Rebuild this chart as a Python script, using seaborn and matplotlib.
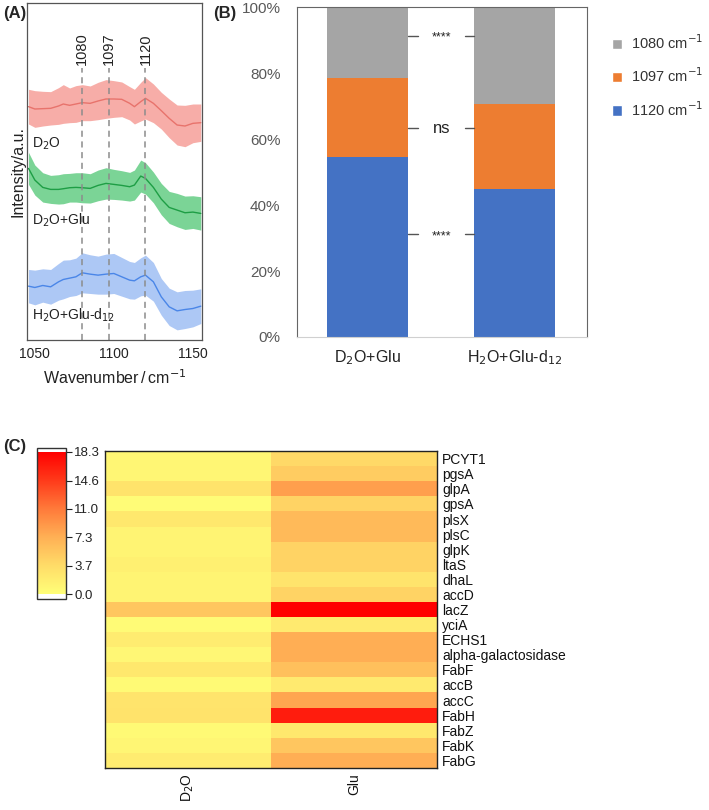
import numpy as np
import pandas as pd
import matplotlib
matplotlib.use("Agg")
import matplotlib.pyplot as plt
from matplotlib.colors import LinearSegmentedColormap
from matplotlib.patches import Patch
import seaborn as sns

sns.set_style("white")
plt.rcParams['font.family'] = ['Liberation Sans', 'DejaVu Sans']

# ---------------- Panel A data ----------------
wavenumber = [1046, 1050, 1055, 1060, 1065, 1068, 1072, 1076, 1080, 1085, 1090, 1095, 1100,
              1105, 1110, 1113, 1117, 1120, 1125, 1130, 1135, 1140, 1145, 1150, 1155]
d2o_mean = [7.00, 6.93, 6.94, 6.95, 7.02, 7.08, 7.04, 7.08, 7.12, 7.10, 7.17, 7.23, 7.23,
            7.22, 7.10, 7.00, 7.15, 7.25, 7.10, 6.88, 6.65, 6.45, 6.42, 6.50, 6.52]
d2o_sd = [0.52, 0.55, 0.52, 0.50, 0.55, 0.58, 0.52, 0.55, 0.54, 0.52, 0.56, 0.58, 0.55,
          0.52, 0.50, 0.52, 0.58, 0.62, 0.58, 0.55, 0.58, 0.60, 0.62, 0.58, 0.56]
glu_mean = [5.15, 4.80, 4.58, 4.52, 4.52, 4.54, 4.57, 4.58, 4.57, 4.55, 4.64, 4.70, 4.67,
            4.64, 4.60, 4.65, 4.92, 4.85, 4.58, 4.23, 3.98, 3.90, 3.82, 3.84, 3.80]
glu_sd = [0.48, 0.45, 0.44, 0.42, 0.44, 0.45, 0.43, 0.44, 0.45, 0.44, 0.46, 0.47, 0.45,
          0.44, 0.43, 0.45, 0.48, 0.47, 0.46, 0.47, 0.48, 0.50, 0.50, 0.49, 0.50]
d12_mean = [1.62, 1.58, 1.64, 1.60, 1.75, 1.82, 1.86, 1.90, 2.02, 1.98, 1.95, 1.98, 2.00,
            1.90, 1.80, 1.78, 1.90, 1.95, 1.75, 1.30, 1.00, 0.88, 0.92, 0.95, 1.02]
d12_sd = [0.50, 0.52, 0.50, 0.52, 0.55, 0.58, 0.55, 0.56, 0.60, 0.58, 0.57, 0.60, 0.60,
          0.58, 0.56, 0.55, 0.57, 0.60, 0.58, 0.55, 0.56, 0.57, 0.57, 0.55, 0.52]
peak_lines = [1080, 1097, 1120]

# ---------------- Panel B data ----------------
groups = ['D$_2$O+Glu', 'H$_2$O+Glu-d$_{12}$']
pct_1120 = [54.5, 45.0]
pct_1097 = [24.1, 25.7]
pct_1080 = [21.4, 29.3]
sig_labels = ['****', 'ns', '****']
sig_levels = [91.4, 63.3, 31.1]

# ---------------- Panel C data ----------------
genes = ['PCYT1', 'pgsA', 'glpA', 'gpsA', 'plsX', 'plsC', 'glpK', 'ltaS', 'dhaL', 'accD',
         'lacZ', 'yciA', 'ECHS1', 'alpha-galactosidase', 'FabF', 'accB', 'accC', 'FabH',
         'FabZ', 'FabK', 'FabG']
expr_d2o = [1.0, 1.0, 3.0, 0.3, 2.5, 1.2, 1.2, 1.6, 1.2, 1.2,
            5.5, 0.5, 2.0, 0.8, 2.5, 0.6, 2.8, 3.0, 0.6, 1.0, 2.0]
expr_glu = [4.0, 5.0, 8.5, 4.5, 6.5, 6.5, 4.5, 4.5, 2.8, 4.5,
            18.3, 2.2, 7.5, 7.5, 6.0, 2.2, 8.0, 16.5, 2.5, 5.5, 7.5]
cbar_ticks = [0.0, 3.7, 7.3, 11.0, 14.6, 18.3]

fig = plt.figure(figsize=(7.09, 8.10), dpi=100)

# ================= Panel A =================
axA = fig.add_axes([0.038, 0.580, 0.247, 0.416])
series = [(d2o_mean, d2o_sd, '#F7A9A3', '#E8736C'),
          (glu_mean, glu_sd, '#74D291', '#1E9E45'),
          (d12_mean, d12_sd, '#A9C5F5', '#4A86E8')]
for mean, sd, fc, lc in series:
    m = np.array(mean); s = np.array(sd)
    axA.fill_between(wavenumber, m - s, m + s, color=fc, lw=0, alpha=0.95)
    sns.lineplot(x=wavenumber, y=mean, ax=axA, color=lc, lw=1.0)
for wl in peak_lines:
    axA.plot([wl, wl], [0, 8.15], ls=(0, (4, 3)), color='#8C8C8C', lw=1.1)
    axA.text(wl, 8.25, str(wl), rotation=90, ha='center', va='bottom', fontsize=10.5, color='#222222')
axA.text(1048, 5.88, 'D$_2$O', fontsize=10, va='center', ha='left', color='#222222')
axA.text(1048, 3.58, 'D$_2$O+Glu', fontsize=10, va='center', ha='left', color='#222222')
axA.text(1048, 0.75, 'H$_2$O+Glu-d$_{12}$', fontsize=10, va='center', ha='left', color='#222222')
axA.set_xlim(1045, 1155.8)
axA.set_ylim(0, 10.1)
axA.set_xticks([1050, 1100, 1150])
axA.set_yticks([])
axA.tick_params(axis='x', labelsize=10, colors='#222222', length=0, pad=5)
axA.set_xlabel('Wavenumber$\\,$/$\\,$cm$^{-1}$', fontsize=11.5, color='#222222', labelpad=5)
axA.set_ylabel('Intensity/a.u.', fontsize=11.5, color='#222222', labelpad=1)
for sp in axA.spines.values():
    sp.set_color('#555555'); sp.set_linewidth(0.9)

# ================= Panel B =================
axB = fig.add_axes([0.419, 0.584, 0.409, 0.407])
cum_blue_orange = [a + b for a, b in zip(pct_1120, pct_1097)]
cum_all = [a + b + c for a, b, c in zip(pct_1120, pct_1097, pct_1080)]
dfB = pd.DataFrame({'group': groups, 'all': cum_all, 'bo': cum_blue_orange, 'b': pct_1120})
for col, colr in [('all', '#A5A5A5'), ('bo', '#ED7D31'), ('b', '#4472C4')]:
    sns.barplot(data=dfB, x='group', y=col, color=colr, width=0.55, ax=axB, saturation=1,
                linewidth=0, edgecolor='none')
for lab, lev in zip(sig_labels, sig_levels):
    axB.plot([0.275, 0.34], [lev, lev], color='#555555', lw=1)
    axB.plot([0.66, 0.725], [lev, lev], color='#555555', lw=1)
    if lab == 'ns':
        axB.text(0.5, lev, lab, ha='center', va='center', fontsize=12, color='#222222')
    else:
        axB.text(0.5, lev - 0.6, lab, ha='center', va='center', fontsize=9, color='#222222')
axB.set_xlim(-0.48, 1.49)
axB.set_ylim(0, 100)
axB.set_yticks([0, 20, 40, 60, 80, 100])
axB.set_yticklabels(['0%', '20%', '40%', '60%', '80%', '100%'])
axB.set_xlabel(''); axB.set_ylabel('')
axB.tick_params(axis='y', labelsize=11, colors='#595959', length=0, pad=12)
axB.tick_params(axis='x', labelsize=11.5, colors='#222222', length=0, pad=8)
for sp in ['left', 'top', 'right']:
    axB.spines[sp].set_color('#666666'); axB.spines[sp].set_linewidth(0.8)
axB.spines['bottom'].set_color('#D0D0D0')
handles = [Patch(facecolor='#A5A5A5', label='1080 cm$^{-1}$'),
           Patch(facecolor='#ED7D31', label='1097 cm$^{-1}$'),
           Patch(facecolor='#4472C4', label='1120 cm$^{-1}$')]
fig.legend(handles=handles, loc='upper left', bbox_to_anchor=(0.845, 0.975), frameon=False,
           fontsize=10.5, handlelength=0.7, handleheight=0.7, handletextpad=0.6, labelspacing=1.0,
           labelcolor='#333333')

# ================= Panel C =================
cmap = LinearSegmentedColormap.from_list('heat', ['#FFFF78', '#FFDC68', '#FFB055', '#FF7A3A', '#FF3A1A', '#FF0000'])
axC = fig.add_axes([0.148, 0.052, 0.468, 0.391])
caxC = fig.add_axes([0.052, 0.260, 0.041, 0.187])
dfC = pd.DataFrame({'D$_2$O': expr_d2o, 'Glu': expr_glu}, index=genes)
sns.heatmap(dfC, ax=axC, cmap=cmap, vmin=0, vmax=18.3, cbar_ax=caxC,
            cbar_kws={'ticks': cbar_ticks})
axC.yaxis.tick_right()
axC.set_yticklabels(genes, rotation=0, fontsize=10)
axC.set_xticklabels(['D$_2$O', 'Glu'], rotation=90, fontsize=10)
axC.tick_params(axis='both', length=0, pad=4, colors='#111111')
for sp in axC.spines.values():
    sp.set_visible(True); sp.set_color('#222222'); sp.set_linewidth(1.0)
cb = axC.collections[0].colorbar
cb.ax.set_ylim(-0.65, 18.8)
cb.ax.set_facecolor('white')
cb.set_ticks(cbar_ticks)
cb.set_ticklabels(['%.1f' % t for t in cbar_ticks])
cb.ax.tick_params(labelsize=9.5, length=4, width=0.8, colors='#222222', pad=2)
cb.outline.set_visible(True); cb.outline.set_edgecolor('#333333'); cb.outline.set_linewidth(1.0)

# panel labels
fig.text(0.004, 0.992, '(A)', fontsize=12, fontweight='bold', va='top', ha='left')
fig.text(0.300, 0.992, '(B)', fontsize=12, fontweight='bold', va='top', ha='left')
fig.text(0.004, 0.458, '(C)', fontsize=12, fontweight='bold', va='top', ha='left')

fig.savefig('out.png', dpi=100)
